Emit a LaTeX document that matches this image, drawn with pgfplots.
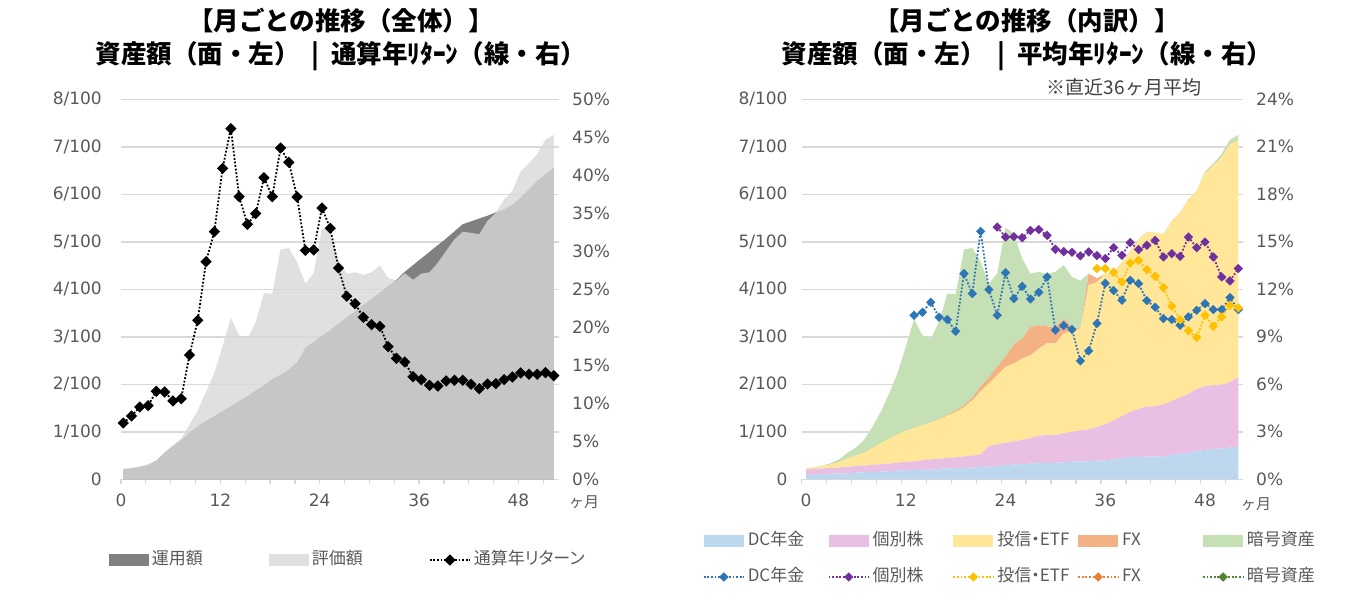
\documentclass[border=0pt]{standalone}
\usepackage{pgfplots}
\pgfplotsset{compat=1.18}
\usepackage{pgfplotstable}
\usepackage{fontspec}
\setmainfont{Noto Sans CJK JP}
\newfontfamily\jp{Noto Sans CJK JP}
\newfontfamily\jpp[RawFeature=+palt]{Noto Sans CJK JP}
\newfontfamily\dejavu{DejaVu Sans}

\definecolor{gridgray}{HTML}{D9D9D9}
\definecolor{tickgray}{HTML}{595959}
\definecolor{unyo}{HTML}{808080}
\definecolor{hyoka}{HTML}{D8D8D8}
\definecolor{dcfill}{HTML}{BDD7EE}
\definecolor{kbfill}{HTML}{E9BFE4}
\definecolor{tsfill}{HTML}{FFE699}
\definecolor{fxfill}{HTML}{F4B183}
\definecolor{crfill}{HTML}{C5E0B4}
\definecolor{dcline}{HTML}{2E75B6}
\definecolor{kbline}{HTML}{7030A0}
\definecolor{tsline}{HTML}{FFC000}
\definecolor{fxline}{HTML}{ED7D31}
\definecolor{crline}{HTML}{548235}

% 全体: 月, 運用額, 評価額, 通算年リターン(%)
\pgfplotstableread{
m w e r
0 0.21 0.22 7.41
1 0.23 0.24 8.33
2 0.26 0.27 9.52
3 0.30 0.32 9.69
4 0.39 0.40 11.58
5 0.56 0.57 11.49
6 0.70 0.71 10.31
7 0.83 0.86 10.61
8 0.98 1.15 16.36
9 1.12 1.45 20.92
10 1.23 1.84 28.64
11 1.33 2.24 32.59
12 1.44 2.80 40.92
13 1.54 3.40 46.14
14 1.65 3.03 37.19
15 1.75 2.96 33.55
16 1.87 3.31 34.96
17 1.98 3.92 39.69
18 2.11 3.91 37.19
19 2.20 4.84 43.60
20 2.31 4.87 41.71
21 2.46 4.57 37.15
22 2.77 4.12 30.13
23 2.89 4.34 30.18
24 3.02 5.30 35.70
25 3.14 5.17 33.03
26 3.28 4.60 27.81
27 3.41 4.33 24.08
28 3.54 4.36 23.11
29 3.67 4.30 21.32
30 3.80 4.36 20.35
31 3.93 4.50 20.13
32 4.07 4.24 17.46
33 4.20 4.18 15.92
34 4.37 4.34 15.44
35 4.51 4.20 13.51
36 4.65 4.33 13.11
37 4.79 4.36 12.37
38 4.93 4.56 12.28
39 5.07 4.81 12.94
40 5.22 5.05 13.03
41 5.37 5.21 13.03
42 5.43 5.19 12.50
43 5.49 5.16 11.93
44 5.55 5.44 12.54
45 5.62 5.61 12.59
46 5.68 5.89 13.11
47 5.78 6.07 13.46
48 5.93 6.48 13.99
49 6.11 6.65 13.82
50 6.28 6.85 13.82
51 6.42 7.15 14.04
52 6.56 7.25 13.64
}\zentai

% 内訳: DC年金, 個別株, 投信・ETF, FX, 暗号資産
\pgfplotstableread{
m dc kb ts fx cr
0 0.09 0.12 0.02 0 0
1 0.10 0.12 0.03 0 0
2 0.11 0.12 0.05 0 0.01
3 0.12 0.12 0.08 0 0.02
4 0.12 0.13 0.11 0 0.06
5 0.13 0.13 0.18 0 0.12
6 0.14 0.14 0.22 0 0.17
7 0.15 0.14 0.27 0 0.27
8 0.15 0.15 0.36 0 0.45
9 0.16 0.16 0.44 0 0.66
10 0.17 0.16 0.52 0 0.96
11 0.18 0.17 0.59 0 1.29
12 0.19 0.18 0.65 0 1.77
13 0.20 0.18 0.70 0 2.30
14 0.20 0.20 0.74 0 1.89
15 0.21 0.21 0.78 0 1.76
16 0.22 0.21 0.83 0.01 2.04
17 0.23 0.22 0.89 0.02 2.55
18 0.24 0.22 0.96 0.03 2.45
19 0.24 0.24 1.04 0.04 3.28
20 0.25 0.25 1.16 0.06 3.15
21 0.26 0.26 1.33 0.10 2.63
22 0.27 0.43 1.32 0.12 1.98
23 0.28 0.46 1.45 0.18 1.96
24 0.30 0.47 1.60 0.21 2.72
25 0.31 0.49 1.64 0.40 2.33
26 0.32 0.51 1.71 0.42 1.69
27 0.33 0.54 1.74 0.60 1.12
28 0.34 0.58 1.83 0.49 1.13
29 0.34 0.59 1.94 0.35 1.10
30 0.35 0.58 1.93 0.35 1.16
31 0.36 0.61 2.10 0.31 1.13
32 0.37 0.63 2.14 0.07 1.05
33 0.38 0.65 2.14 0 1.01
34 0.38 0.67 3.04 0.24 0
35 0.39 0.71 3.05 0.08 0
36 0.40 0.76 3.17 0 0
37 0.42 0.82 3.12 0 0
38 0.45 0.88 3.23 0 0
39 0.47 0.95 3.39 0 0
40 0.47 1.01 3.57 0 0
41 0.48 1.05 3.68 0 0
42 0.48 1.06 3.65 0 0
43 0.48 1.10 3.58 0 0
44 0.52 1.13 3.79 0 0
45 0.54 1.18 3.89 0 0
46 0.56 1.24 4.09 0 0
47 0.60 1.30 4.17 0 0
48 0.62 1.34 4.49 0 0.03
49 0.64 1.34 4.63 0 0.04
50 0.65 1.34 4.80 0 0.06
51 0.67 1.38 5.00 0 0.10
52 0.69 1.45 5.00 0 0.11
}\uchiwake

\pgfplotsset{
  tickfont/.style={font=\dejavu\fontsize{17pt}{20pt}\selectfont},
  base/.style={
    scale only axis, height=380pt, anchor=south west,
    ymin=0,
    ticklabel style={tickfont, text=tickgray, inner sep=0pt},
  },
  areaaxis/.style={
    base, ymax=8, ytick={0,1,2,3,4,5,6,7,8},
    yticklabels={0,1/100,2/100,3/100,4/100,5/100,6/100,7/100,8/100},
    yticklabel style={anchor=east, xshift=-14pt},
    axis x line*=bottom, axis y line*=left,
    y axis line style={draw=none},
    x axis line style={color=gridgray, line width=1.6pt},
    y tick style={draw=none},
    x tick style={color=gridgray, line width=1.3pt},
    minor x tick style={color=gridgray, line width=1.3pt},
    tick align=outside, major tick length=5pt, minor tick length=5pt,
    ymajorgrids, grid style={color=gridgray, line width=1.6pt},
    xticklabel style={anchor=north},
  },
  lineaxis/.style={
    base, axis x line=none, axis y line*=right,
    y axis line style={draw=none}, y tick style={draw=none},
    yticklabel style={anchor=west, xshift=13pt},
  },
  patchlegend/.style={legend image code/.code={\fill[##1] (0pt,-6pt) rectangle (40pt,6pt);}},
  linelegend/.style={legend image code/.code={%
    \draw[##1] (0pt,0pt) -- (40pt,0pt);
    \draw[##1, only marks] plot coordinates {(20pt,0pt)};}},
  dotline/.style={line width=1.8pt, dash pattern=on 1.8pt off 1.8pt, mark=square*,
    mark options={solid, rotate=45}},
  legstyle/.style={legend style={draw=none, fill=none, inner sep=0pt, outer sep=0pt,
    anchor=west, font=\jpp\fontsize{17pt}{20pt}\selectfont, text=tickgray,
    /tikz/column sep=0pt,
    nodes={inner xsep=3pt, inner ysep=0pt, text height=13pt, text depth=4pt}}},
}

\begin{document}
\begin{tikzpicture}[x=1pt,y=1pt]
\useasboundingbox (0,0) rectangle (1349,-613);

% ---------- 左: 全体 ----------
\node[font=\jp\bfseries\fontsize{25.5pt}{30pt}\selectfont] at (341,-21) {【月ごとの推移（全体）】};
\node[font=\jp\bfseries\fontsize{25.5pt}{30pt}\selectfont] at (341,-56) {資産額（面・左）\ \ |\ \ 通算年ﾘﾀｰﾝ（線・右）};

\begin{axis}[areaaxis, at={(121pt,-479.3pt)}, width=438pt,
  xmin=-0.27, xmax=52.63,
  xtick={-0.27,11.73,23.73,35.73,47.73}, xticklabels={0,12,24,36,48},
  minor xtick={2.73,5.73,8.73,14.73,17.73,20.73,26.73,29.73,32.73,38.73,41.73,44.73,50.73},
  xticklabel style={yshift=-9pt}]
\addplot[fill=unyo, draw=none] table[x=m, y=w] {\zentai} \closedcycle;
\addplot[fill=hyoka, fill opacity=0.8, draw=none] table[x=m, y=e] {\zentai} \closedcycle;
\end{axis}

\begin{axis}[lineaxis, legstyle, at={(121pt,-479.3pt)}, width=438pt,
  xmin=-0.27, xmax=52.63, ymax=50,
  ytick={0,5,10,15,20,25,30,35,40,45,50},
  yticklabels={0\%,5\%,10\%,15\%,20\%,25\%,30\%,35\%,40\%,45\%,50\%},
  legend columns=3,
  legend style={at={(-0.0274,-0.2124)}}]
\addlegendimage{patchlegend, fill=unyo, draw=none}
\addlegendentry{\makebox[114pt][l]{運用額}}
\addlegendimage{patchlegend, fill=hyoka, fill opacity=0.8, draw=none}
\addlegendentry{\makebox[114pt][l]{評価額}}
\addplot[linelegend, dotline, black, mark size=3.1pt] table[x=m, y=r] {\zentai};
\addlegendentry{\makebox[114pt][l]{通算年リターン}}
\end{axis}
\node[font=\jp\fontsize{15pt}{18pt}\selectfont, text=tickgray] at (584,-502) {ヶ月};

% ---------- 右: 内訳 ----------
\node[font=\jp\bfseries\fontsize{25.5pt}{30pt}\selectfont] at (1027,-21) {【月ごとの推移（内訳）】};
\node[font=\jp\bfseries\fontsize{25.5pt}{30pt}\selectfont] at (1027,-56) {資産額（面・左）\ \ |\ \ 平均年ﾘﾀｰﾝ（線・右）};
\node[font=\jp\fontsize{19pt}{22pt}\selectfont, text=black!75] at (1124,-87) {※直近36ヶ月平均};

\begin{axis}[areaaxis, at={(801.7pt,-479.3pt)}, width=441.3pt,
  xmin=-0.52, xmax=52.57, stack plots=y,
  xtick={0,12,24,36,48}, xticklabels={0,12,24,36,48},
  major tick length=0pt,
  minor xtick={-0.52,2.48,5.48,8.48,11.48,14.48,17.48,20.48,23.48,26.48,29.48,32.48,35.48,38.48,41.48,44.48,47.48,50.48},
  xticklabel style={yshift=-14pt}]
\addplot[fill=dcfill, draw=none] table[x=m, y=dc] {\uchiwake} \closedcycle;
\addplot[fill=kbfill, draw=none] table[x=m, y=kb] {\uchiwake} \closedcycle;
\addplot[fill=tsfill, draw=none] table[x=m, y=ts] {\uchiwake} \closedcycle;
\addplot[fill=fxfill, draw=none] table[x=m, y=fx] {\uchiwake} \closedcycle;
\addplot[fill=crfill, draw=none] table[x=m, y=cr] {\uchiwake} \closedcycle;
\end{axis}

\begin{axis}[lineaxis, legstyle, at={(801.7pt,-479.3pt)}, width=441.3pt,
  xmin=-0.52, xmax=52.57, ymax=24,
  ytick={0,3,6,9,12,15,18,21,24},
  yticklabels={0\%,3\%,6\%,9\%,12\%,15\%,18\%,21\%,24\%},
  legend columns=5,
  legend style={at={(-0.2237,-0.2097)}, /tikz/row sep=19pt}]
\addlegendimage{patchlegend, fill=dcfill, draw=none}
\addlegendentry{\makebox[77pt][l]{DC年金}}
\addlegendimage{patchlegend, fill=kbfill, draw=none}
\addlegendentry{\makebox[77pt][l]{個別株}}
\addlegendimage{patchlegend, fill=tsfill, draw=none}
\addlegendentry{\makebox[77pt][l]{投信・ETF}}
\addlegendimage{patchlegend, fill=fxfill, draw=none}
\addlegendentry{\makebox[77pt][l]{FX}}
\addlegendimage{patchlegend, fill=crfill, draw=none}
\addlegendentry{\makebox[77pt][l]{暗号資産}}
\addplot[linelegend, dotline, dcline, mark size=2.4pt] coordinates {
(13,10.36) (14,10.55) (15,11.18) (16,10.24) (17,10.09) (18,9.35) (19,12.99)
(20,11.73) (21,15.66) (22,11.98) (23,10.36) (24,13.05) (25,11.41) (26,12.19)
(27,11.39) (28,11.81) (29,12.78) (30,9.42) (31,9.71) (32,9.46) (33,7.48)
(34,8.11) (35,9.84) (36,12.38) (37,11.92) (38,11.31) (39,12.57) (40,12.36)
(41,11.29) (42,10.87) (43,10.15) (44,10.09) (45,9.73) (46,10.26) (47,10.68)
(48,11.10) (49,10.72) (50,10.72) (51,11.48) (52,10.72)};
\addlegendentry{\makebox[77pt][l]{DC年金}}
\addplot[linelegend, dotline, kbline, mark size=2.4pt] coordinates {
(23,15.93) (24,15.30) (25,15.33) (26,15.26) (27,15.72) (28,15.77) (29,15.41)
(30,14.53) (31,14.38) (32,14.34) (33,14.11) (34,14.36) (35,14.13) (36,13.94)
(37,14.63) (38,14.15) (39,14.95) (40,14.51) (41,14.78) (42,15.09) (43,14.04)
(44,14.25) (45,14.08) (46,15.30) (47,14.63) (48,14.99) (49,14.04) (50,12.78)
(51,12.53) (52,13.31)};
\addlegendentry{\makebox[77pt][l]{個別株}}
\addplot[linelegend, dotline, tsline, mark size=2.4pt] coordinates {
(35,13.31) (36,13.31) (37,13.08) (38,12.47) (39,13.66) (40,13.83) (41,13.24)
(42,12.82) (43,12.11) (44,10.93) (45,10.09) (46,9.38) (47,8.96) (48,10.36)
(49,9.67) (50,10.26) (51,10.99) (52,10.83)};
\addlegendentry{\makebox[77pt][l]{投信・ETF}}
\addlegendimage{linelegend, dotline, fxline, mark size=2.4pt}
\addlegendentry{\makebox[77pt][l]{FX}}
\addlegendimage{linelegend, dotline, crline, mark size=2.4pt}
\addlegendentry{\makebox[77pt][l]{暗号資産}}
\end{axis}
\node[font=\jp\fontsize{15pt}{18pt}\selectfont, text=tickgray] at (1256,-504) {ヶ月};
\end{tikzpicture}
\end{document}
